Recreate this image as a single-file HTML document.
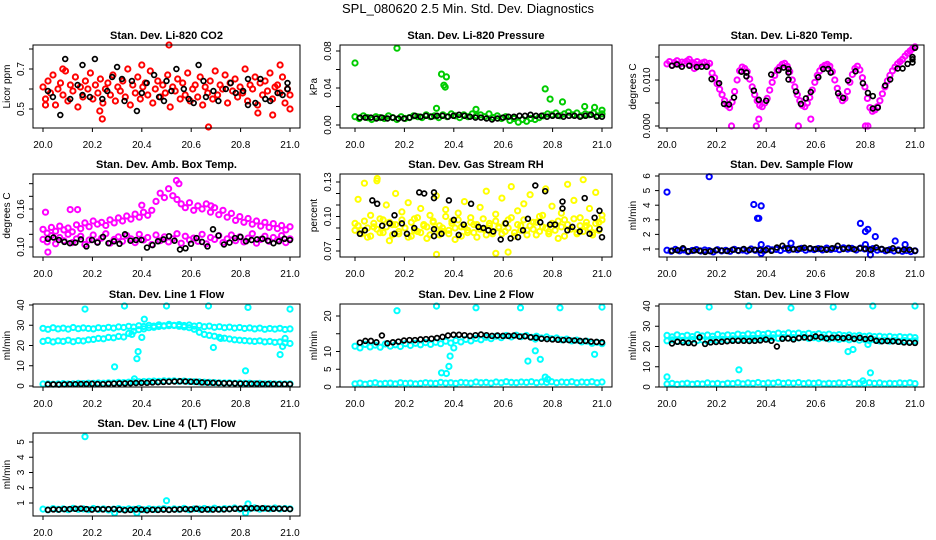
<!DOCTYPE html>
<html><head><meta charset="utf-8"><title>SPL_080620 2.5 Min. Std. Dev. Diagnostics</title>
<style>html,body{margin:0;padding:0;background:#fff;}svg{display:block;font-family:"Liberation Sans",sans-serif;}</style>
</head><body>
<svg id="chart" width="936" height="540" viewBox="0 0 936 540">
<text x="468" y="13" text-anchor="middle" font-size="13">SPL_080620  2.5 Min. Std. Dev. Diagnostics</text>
</svg>
<script>
// ---------- data ----------
const xTicks = [20.0, 20.2, 20.4, 20.6, 20.8, 21.0];
const xTickLabels = ["20.0", "20.2", "20.4", "20.6", "20.8", "21.0"];

// P1 CO2
const co2Red = [0.61,0.55,0.64,0.58,0.67,0.52,0.60,0.63,0.57,0.69,0.54,0.62,0.59,0.66,0.51,0.61,0.56,0.64,0.60,0.68,0.55,0.62,0.58,0.65,0.53,0.60,0.63,0.57,0.67,0.54,0.61,0.59,0.64,0.56,0.70,0.52,0.62,0.58,0.66,0.55,0.61,0.63,0.57,0.69,0.53,0.60,0.64,0.56,0.62,0.58,0.67,0.51,0.61,0.59,0.65,0.55,0.63,0.57,0.68,0.54,0.60,0.62,0.56,0.66,0.52,0.61,0.58,0.64,0.55,0.69,0.57,0.62,0.60,0.67,0.53,0.63,0.59,0.65,0.56,0.61,0.58,0.70,0.54,0.62,0.60,0.66,0.52,0.63,0.57,0.64,0.59,0.68,0.55,0.61,0.62,0.58,0.66,0.53,0.60,0.57];
const co2RedOut = [[20.51,0.82],[20.67,0.41],[20.24,0.45],[20.40,0.72],[20.96,0.72],[20.08,0.70],[20.23,0.49],[20.87,0.48],[20.93,0.47],[20.01,0.52],[21.0,0.50]];
const co2Black = [[20.02,0.59],[20.04,0.56],[20.07,0.47],[20.09,0.75],[20.11,0.55],[20.14,0.62],[20.16,0.72],[20.16,0.57],[20.19,0.56],[20.21,0.75],[20.24,0.55],[20.26,0.59],[20.28,0.66],[20.30,0.71],[20.32,0.65],[20.33,0.54],[20.36,0.64],[20.38,0.49],[20.40,0.58],[20.42,0.63],[20.45,0.67],[20.47,0.56],[20.49,0.54],[20.50,0.64],[20.52,0.59],[20.54,0.70],[20.57,0.60],[20.59,0.55],[20.61,0.53],[20.63,0.72],[20.65,0.64],[20.66,0.56],[20.69,0.59],[20.71,0.54],[20.74,0.60],[20.76,0.63],[20.78,0.58],[20.81,0.59],[20.83,0.65],[20.83,0.52],[20.86,0.53],[20.88,0.65],[20.90,0.55],[20.92,0.54],[20.95,0.58],[20.97,0.57],[20.99,0.60],[20.99,0.63]];

// P2 Pressure
const presGreen = [0.009,0.007,0.010,0.008,0.006,0.009,0.008,0.007,0.010,0.008,0.006,0.009,0.007,0.008,0.010,0.009,0.008,0.011,0.009,0.010,0.008,0.011,0.009,0.012,0.010,0.008,0.011,0.009,0.012,0.010,0.011,0.009,0.012,0.008,0.010,0.007,0.009,0.005,0.007,0.003,0.006,0.004,0.007,0.006,0.008,0.010,0.012,0.011,0.013,0.010,0.012,0.014,0.011,0.013,0.010,0.012,0.011,0.013,0.010,0.012];
const presGreenOut = [[20.0,0.067],[20.17,0.083],[20.33,0.018],[20.35,0.055],[20.37,0.052],[20.36,0.043],[20.365,0.041],[20.49,0.017],[20.77,0.039],[20.79,0.028],[20.84,0.025],[20.93,0.020],[20.97,0.019],[21.0,0.016]];
const presBlack = [0.008,0.008,0.008,0.007,0.008,0.007,0.008,0.007,0.007,0.008,0.010,0.009,0.010,0.009,0.010,0.010,0.009,0.010,0.011,0.010,0.009,0.008,0.008,0.007,0.006,0.007,0.008,0.009,0.009,0.010,0.010,0.011,0.010,0.010,0.009,0.010,0.010,0.009,0.010,0.010,0.009,0.010,0.011,0.009,0.009];

// P3 Li-820 Temp
const tempMag = [0.0135,0.0140,0.0132,0.0138,0.0142,0.0134,0.0139,0.0136,0.0141,0.0133,0.0138,0.0135,0.0140,0.0134,0.0137,0.0139,0.0133,0.0136,0.0115,0.0105,0.0092,0.0080,0.0068,0.0055,0.0045,0.0040,0.0052,0.0075,0.0100,0.0120,0.0128,0.0125,0.0118,0.0102,0.0085,0.0068,0.0055,0.0045,0.0042,0.0050,0.0060,0.0078,0.0095,0.0110,0.0122,0.0128,0.0134,0.0136,0.0130,0.0118,0.0100,0.0085,0.0068,0.0055,0.0045,0.0042,0.0050,0.0062,0.0078,0.0095,0.0110,0.0120,0.0128,0.0132,0.0134,0.0130,0.0118,0.0100,0.0082,0.0065,0.0055,0.0060,0.0075,0.0095,0.0112,0.0125,0.0130,0.0122,0.0105,0.0085,0.0060,0.0040,0.0032,0.0035,0.0042,0.0055,0.0070,0.0085,0.0098,0.0110,0.0120,0.0128,0.0135,0.0140,0.0145,0.0152,0.0158,0.0163,0.0168,0.0172];
const tempMagOut = [[20.26,0],[20.36,0],[20.53,0],[20.8,0],[20.81,0],[20.58,0.0015],[20.37,0.0015],[20.09,0.0145],[20.11,0.0125]];
const tempBlack = [[20.02,0.0131],[20.04,0.0134],[20.06,0.0129],[20.09,0.0131],[20.12,0.0128],[20.14,0.0129],[20.16,0.0129],[20.18,0.0102],[20.21,0.0093],[20.23,0.0048],[20.25,0.0047],[20.27,0.0062],[20.30,0.0118],[20.32,0.0116],[20.32,0.0108],[20.35,0.0077],[20.37,0.0057],[20.40,0.0055],[20.42,0.0112],[20.45,0.0121],[20.47,0.0127],[20.49,0.0124],[20.49,0.0116],[20.49,0.0101],[20.52,0.0075],[20.54,0.0048],[20.56,0.0060],[20.58,0.0074],[20.61,0.0106],[20.63,0.0124],[20.65,0.0124],[20.66,0.0116],[20.69,0.0071],[20.71,0.0061],[20.73,0.0099],[20.76,0.0119],[20.79,0.0093],[20.81,0.0072],[20.83,0.0065],[20.83,0.0038],[20.85,0.0040],[20.88,0.0088],[20.90,0.0101],[20.93,0.0125],[20.95,0.0125],[20.97,0.0135],[20.99,0.0145],[20.99,0.0150],[21.0,0.0170],[20.99,0.0138]];

// P4 Amb Box Temp
const ambLower = [0.112,0.108,0.118,0.105,0.115,0.110,0.120,0.107,0.113,0.117,0.104,0.111,0.119,0.108,0.114,0.121,0.106,0.112,0.116,0.109,0.118,0.113,0.107,0.120,0.111,0.115,0.104,0.119,0.110,0.116,0.108,0.113,0.121,0.106,0.117,0.111,0.114,0.109,0.120,0.105,0.115,0.112,0.118,0.107,0.113,0.119,0.110,0.116,0.108,0.114,0.121,0.106,0.112,0.117,0.109,0.115,0.111,0.118,0.107,0.113];
const ambUpper = [0.128,0.122,0.131,0.125,0.133,0.127,0.130,0.124,0.135,0.129,0.138,0.132,0.141,0.136,0.139,0.134,0.143,0.138,0.146,0.141,0.149,0.144,0.152,0.147,0.155,0.150,0.158,0.172,0.185,0.178,0.192,0.181,0.175,0.168,0.162,0.170,0.158,0.165,0.160,0.168,0.155,0.162,0.151,0.158,0.147,0.153,0.142,0.148,0.139,0.145,0.136,0.141,0.133,0.139,0.131,0.137,0.129,0.134,0.127,0.132];
const ambOut = [[20.01,0.155],[20.11,0.159],[20.14,0.159],[20.54,0.205],[20.55,0.200],[20.02,0.092],[20.68,0.165],[20.40,0.166]];
const ambBlack = [0.113,0.115,0.111,0.108,0.106,0.107,0.112,0.101,0.111,0.107,0.116,0.106,0.109,0.105,0.120,0.110,0.111,0.111,0.099,0.103,0.109,0.112,0.117,0.110,0.096,0.098,0.105,0.114,0.108,0.101,0.128,0.118,0.104,0.107,0.114,0.116,0.109,0.111,0.112,0.113,0.110,0.106,0.109,0.113,0.111];

// P5 Gas Stream RH
const rhYellowA = [0.094,0.115,0.088,0.129,0.082,0.101,0.091,0.131,0.086,0.097,0.110,0.079,0.093,0.120,0.085,0.104,0.090,0.112,0.083,0.098,0.087,0.107,0.092,0.081,0.101,0.095,0.118,0.084,0.090,0.106,0.088,0.096,0.080,0.103,0.091,0.113,0.086,0.099,0.093,0.082,0.108,0.089,0.122,0.094,0.085,0.102,0.090,0.116,0.087,0.097,0.126,0.083,0.105,0.092,0.111,0.088,0.119,0.095,0.084,0.100,0.091,0.124,0.087,0.109,0.093,0.081,0.103,0.097,0.128,0.089,0.114,0.085,0.099,0.132,0.092,0.107,0.086,0.121,0.095,0.101];
const rhYellowB = [0.088,0.092,0.085,0.096,0.090,0.083,0.094,0.089,0.098,0.086,0.091,0.095,0.084,0.093,0.087,0.097,0.090,0.082,0.095,0.088,0.099,0.086,0.093,0.091,0.084,0.096,0.089,0.092,0.087,0.100,0.085,0.094,0.090,0.097,0.083,0.091,0.088,0.095,0.086,0.093,0.089,0.098,0.084,0.092,0.087,0.096,0.091,0.085,0.094,0.090,0.099,0.086,0.093,0.088,0.097,0.084,0.092,0.089,0.095,0.087,0.101,0.090,0.085,0.094,0.088,0.096,0.091,0.083,0.093,0.089,0.098,0.086,0.092,0.087,0.095,0.090,0.084,0.094,0.088,0.097];
const rhOut = [[20.57,0.068],[20.62,0.069],[20.33,0.067],[20.09,0.133]];
const rhBlack = [[20.02,0.085],[20.04,0.088],[20.07,0.114],[20.09,0.111],[20.11,0.092],[20.14,0.094],[20.16,0.101],[20.16,0.085],[20.19,0.094],[20.21,0.085],[20.24,0.090],[20.26,0.121],[20.28,0.120],[20.32,0.121],[20.32,0.116],[20.32,0.089],[20.32,0.083],[20.35,0.085],[20.38,0.114],[20.40,0.097],[20.42,0.084],[20.44,0.093],[20.47,0.111],[20.50,0.091],[20.52,0.090],[20.54,0.088],[20.56,0.087],[20.59,0.080],[20.61,0.094],[20.63,0.081],[20.66,0.082],[20.68,0.088],[20.70,0.098],[20.73,0.127],[20.75,0.095],[20.77,0.122],[20.79,0.093],[20.81,0.093],[20.84,0.113],[20.84,0.107],[20.86,0.088],[20.88,0.091],[20.91,0.087],[20.93,0.116],[20.95,0.085],[20.97,0.099],[20.99,0.089],[20.99,0.105],[21.0,0.082]];

// P6 Sample Flow
const sfBlue = [0.92,0.85,0.97,0.88,0.94,0.82,0.90,0.96,0.86,0.93,0.89,0.80,0.95,0.87,0.91,0.84,0.98,0.89,0.93,0.86,1.00,0.91,0.95,0.88,1.02,0.94,0.97,0.90,1.04,0.93,0.99,0.95,1.05,0.92,1.01,0.96,1.03,0.94,1.06,0.97,1.02,0.95,1.08,0.99,1.04,0.93,1.06,1.00,0.97,1.03,0.92,0.98,0.88,0.95,0.86,0.93,0.84,0.90,0.82,0.88];
const sfOut = [[20.0,4.9],[20.17,5.95],[20.35,4.05],[20.37,3.1],[20.38,3.95],[20.365,3.1],[20.78,2.75],[20.80,2.2],[20.81,2.35],[20.84,1.85],[20.92,1.55],[20.96,1.3],[20.80,1.3],[20.82,0.6],[20.38,1.3],[20.50,1.4],[20.38,0.7]];
const sfBlack = [0.88,0.92,1.05,0.85,0.90,0.88,0.80,0.85,0.92,0.89,0.86,0.95,0.90,1.00,0.93,0.95,0.92,0.93,0.88,1.10,1.22,1.05,0.98,1.02,1.08,1.05,1.00,1.02,0.95,1.05,1.22,1.00,1.08,0.98,1.05,1.02,0.95,1.10,1.00,0.92,1.05,0.90,0.96,0.95,0.88];

// P7 Line 1 Flow
const l1Upper = [28.5,28.0,28.8,28.2,28.6,28.1,28.9,28.3,28.7,28.4,28.2,28.8,28.5,29.0,28.6,29.2,28.9,29.5,29.1,29.8,29.4,30.0,29.6,30.2,29.8,30.4,30.0,30.3,29.9,30.1,29.6,29.9,29.3,29.6,29.0,29.3,28.8,29.1,28.6,28.9,28.4,28.7,28.2,28.6,28.0,28.4,28.1,28.5,27.9,28.2];
const l1Lower = [22.0,22.5,21.8,22.3,22.0,22.6,21.9,22.4,22.2,22.8,23.0,23.5,23.3,24.0,23.8,24.5,24.2,26.0,27.0,27.8,28.2,28.8,29.0,29.4,29.6,29.8,29.9,29.5,29.2,28.8,28.0,26.5,25.5,25.0,24.6,24.0,23.6,23.2,22.8,22.6,22.4,22.2,22.0,22.3,21.8,22.0,21.6,21.8,21.3,21.0];
const l1Bottom = [1.0,1.1,0.9,1.0,1.2,1.0,1.1,1.3,1.2,1.4,1.3,1.5,1.4,1.6,1.5,1.8,1.7,1.9,2.0,2.1,2.2,2.3,2.4,2.3,2.5,2.4,2.5,2.3,2.4,2.2,2.1,2.0,1.9,1.8,1.7,1.6,1.5,1.6,1.4,1.5,1.3,1.4,1.2,1.3,1.1,1.2,1.0,1.1,1.0,1.1];
const l1Out = [[20.17,38],[20.33,39.5],[20.5,39.5],[20.67,39.5],[20.83,38.8],[21.0,38],[20.29,9.5],[20.38,13.5],[20.385,17],[20.41,33],[20.69,19],[20.82,7.5],[20.96,15.5],[20.97,19.5],[20.98,23.5],[20.37,3.5],[20.36,25.5],[20.40,24],[20.72,23.5]];
const l1Black = [0.8,0.8,0.7,0.8,0.9,0.9,1.0,1.0,1.1,1.0,0.9,1.1,1.2,1.3,1.3,1.4,1.5,1.6,1.6,1.8,1.9,2.0,2.1,2.2,2.3,2.2,2.1,2.0,1.8,1.7,1.6,1.5,1.4,1.4,1.3,1.2,1.2,1.1,1.1,1.0,1.0,1.0,0.9,0.9,0.9];

// P8 Line 2 Flow
const l2Upper = [11.5,11.0,12.0,11.3,11.8,11.2,12.1,11.5,11.9,11.4,12.2,11.7,12.3,11.9,12.5,12.0,12.6,12.2,12.9,12.4,13.1,12.7,13.4,13.0,13.7,13.3,14.0,13.6,14.3,13.9,14.5,14.1,14.6,14.2,14.5,14.0,14.3,13.8,14.1,13.6,13.8,13.3,13.5,13.0,13.2,12.7,12.9,12.4,12.6,12.2];
const l2Bottom = [0.9,1.1,0.8,1.0,1.2,0.9,1.0,1.1,0.9,1.2,1.0,1.1,0.9,1.0,1.2,1.1,1.0,1.3,1.1,1.2,1.0,1.3,1.2,1.1,1.4,1.2,1.3,1.1,1.4,1.2,1.5,1.3,1.2,1.4,1.3,1.5,1.2,1.4,1.3,1.5,1.2,1.4,1.3,1.5,1.2,1.4,1.3,1.5,1.2,1.4];
const l2Out = [[20.17,21.5],[20.33,22.8],[20.49,22.3],[20.67,22.3],[20.83,22.3],[21.0,22.5],[20.35,4],[20.37,3.8],[20.38,5.8],[20.385,8.7],[20.70,7.3],[20.75,7.8],[20.73,10.2],[20.77,2.8],[20.78,2.2],[20.97,9.2],[20.96,12.3],[20.73,13.5],[20.40,11]];
const l2Black = [12.5,13.0,13.0,12.6,14.5,12.3,12.6,12.8,13.1,13.2,13.2,13.4,13.5,13.6,13.8,14.1,14.5,14.7,14.7,14.6,14.4,14.6,14.8,14.6,14.4,14.5,14.4,14.4,14.5,14.2,14.3,14.0,13.9,13.6,13.5,13.4,13.3,13.2,13.2,13.1,13.0,13.0,12.8,12.7,12.6];

// P9 Line 3 Flow
const l3Upper = [25.5,24.8,25.8,25.0,25.6,24.9,25.9,25.2,25.7,25.1,26.0,25.3,25.8,25.4,26.1,25.6,26.2,25.7,26.4,25.9,26.5,26.0,26.6,26.1,26.7,26.2,26.6,26.0,26.5,25.9,26.3,25.8,26.1,25.6,25.9,25.4,25.7,25.2,25.5,25.0,25.3,24.9,25.1,24.7,25.0,24.6,24.9,24.5,24.8,24.4];
const l3Lower = [22.8,23.3,22.5,23.0,22.7,23.4,22.9,23.2,22.6,23.5,23.0,23.6,23.1,23.7,23.3,23.9,23.4,24.0,23.6,24.2,23.8,24.3,24.0,24.5,24.1,24.4,24.2,24.6,24.0,24.4,23.9,24.3,23.7,24.1,23.5,23.9,23.3,23.7,23.1,23.5,22.9,23.3,22.7,23.1,22.6,23.0,22.5,22.9,22.4,22.8];
const l3Bottom = [1.5,1.8,1.3,1.6,1.9,1.4,1.7,1.5,2.0,1.6,1.8,1.4,1.9,1.7,2.1,1.6,2.0,1.8,2.2,1.7,2.0,1.9,2.3,1.8,2.1,1.9,2.2,1.7,2.0,1.8,2.1,1.6,1.9,1.7,2.0,1.8,2.2,1.6,1.9,1.7,2.1,1.8,2.0,1.6,1.9,1.7,2.0,1.8,2.1,1.7];
const l3Out = [[20.0,5],[20.17,39.5],[20.33,40],[20.5,39],[20.67,39.5],[20.83,40],[21.0,40],[20.29,8.5],[20.73,17.5],[20.75,18.5],[20.82,7],[20.81,21],[20.79,3]];
const l3Black = [21.5,22.3,22.0,21.8,21.6,24.5,21.3,22.0,22.2,22.3,22.6,22.8,22.8,22.8,22.7,22.8,23.0,23.4,22.8,20.0,23.8,24.0,23.5,24.2,24.5,24.2,25.0,24.6,24.0,24.3,24.4,24.1,24.5,23.8,24.3,23.7,24.0,22.8,22.6,22.7,22.6,22.3,22.0,21.9,21.8];

// P10 Line 4 (LT) Flow
const l4Cyan = [0.60,0.55,0.63,0.58,0.62,0.56,0.65,0.59,0.61,0.57,0.64,0.58,0.62,0.55,0.60,0.63,0.57,0.61,0.59,0.64,0.56,0.62,0.58,0.60,0.63,0.57,0.61,0.59,0.65,0.56,0.62,0.60,0.64,0.58,0.66,0.59,0.63,0.61,0.67,0.60,0.64,0.62,0.68,0.60,0.65,0.62,0.67,0.61,0.64,0.62];
const l4Out = [[20.17,5.35],[20.5,1.15],[20.83,0.95],[20.29,0.35],[20.38,0.35],[20.82,0.35]];
const l4Black = [0.55,0.58,0.57,0.60,0.60,0.62,0.63,0.60,0.57,0.60,0.58,0.60,0.60,0.57,0.53,0.55,0.58,0.57,0.53,0.56,0.55,0.57,0.55,0.57,0.58,0.60,0.58,0.62,0.56,0.58,0.57,0.58,0.58,0.60,0.62,0.63,0.65,0.65,0.66,0.65,0.63,0.62,0.63,0.62,0.60];

// ---------- layout ----------
const NS = "http://www.w3.org/2000/svg";
const svg = document.getElementById("chart");
const cols = [{l:33,r:300,x0:43,x1:290},{l:340,r:612,x0:355,x1:602},{l:659,r:924,x0:667,x1:915}];
const rows = [{t:45,b:128},{t:174,b:257},{t:304,b:387},{t:433,b:516}];

function el(tag, attrs, parent){ const e=document.createElementNS(NS,tag); for(const k in attrs) e.setAttribute(k,attrs[k]); (parent||svg).appendChild(e); return e; }
function even(arr, x0, x1){ return arr.map((v,i)=>[x0+(x1-x0)*i/(arr.length-1), v]); }

function panel(cfg){
  const c=cols[cfg.col], r=rows[cfg.row];
  const g=el("g",{});
  
  
  const xs=v=>c.x0+(v-20)*(c.x1-c.x0);
  const ys=v=>cfg.p0+(v-cfg.v0)*(cfg.p1-cfg.p0)/(cfg.v1-cfg.v0);
  cfg.series.forEach(s=>{
    const isBlack = s.color==="#000";
    const sg=el("g",{fill:"none",stroke:s.color,"stroke-width":isBlack?1.7:2},g);
    
    
    s.pts.forEach(p=>{
      const px=xs(p[0]), py=ys(p[1]);
      if(py<r.t-2||py>r.b+2) return;
      const ci=el("circle",{cx:px.toFixed(1),cy:py.toFixed(1),r:isBlack?2.4:2.6},sg);
      
      
    });
  });
  const box=el("rect",{x:c.l,y:r.t,width:c.r-c.l,height:r.b-r.t,fill:"none",stroke:"#000","stroke-width":1},g);
  
  
  const t=el("text",{x:(c.l+c.r)/2,y:r.t-6,"text-anchor":"middle","font-size":11,"font-weight":"bold"},g);
  t.textContent=cfg.title;
  
  
  xTicks.forEach((v,i)=>{
    const px=xs(v);
    el("line",{x1:px,x2:px,y1:r.b,y2:r.b+4,stroke:"#000"},g);
    const tl=el("text",{x:px,y:r.b+20,"text-anchor":"middle","font-size":10},g);
    tl.textContent=xTickLabels[i];
    
    
  });
  cfg.yTicks.forEach((v,i)=>{
    const py=ys(v);
    el("line",{x1:c.l-4,x2:c.l,y1:py,y2:py,stroke:"#000"},g);
    if(cfg.yLabels[i]){
      const tl=el("text",{x:0,y:0,"text-anchor":"middle","font-size":10,transform:`translate(${c.l-9},${py}) rotate(-90)`},g);
      tl.textContent=cfg.yLabels[i];
      
      
    }
  });
  const yt=el("text",{x:0,y:0,"text-anchor":"middle","font-size":10,transform:`translate(${c.l-23},${(r.t+r.b)/2}) rotate(-90)`},g);
  yt.textContent=cfg.yTitle;
  
  
}

const E=(a)=>even(a,20.0,21.0), EB=(a)=>even(a,20.02,21.0);
panel({name:"panel-co2",col:0,row:0,title:"Stan. Dev. Li-820 CO2",yTitle:"Licor ppm",v0:0.7,p0:69,v1:0.5,p1:109,yTicks:[0.5,0.6,0.7,0.8],yLabels:["0.5","","0.7",""],
  series:[{name:"co2-red",color:"#ff0000",pts:E(co2Red).concat(co2RedOut)},{name:"co2-black",color:"#000",pts:co2Black}]});
panel({name:"panel-pressure",col:1,row:0,title:"Stan. Dev. Li-820 Pressure",yTitle:"kPa",v0:0.08,p0:51,v1:0,p1:125,yTicks:[0,0.02,0.04,0.06,0.08],yLabels:["0.00","","0.04","","0.08"],
  series:[{name:"pressure-green",color:"#00cc00",pts:E(presGreen).concat(presGreenOut)},{name:"pressure-black",color:"#000",pts:EB(presBlack)}]});
panel({name:"panel-li820-temp",col:2,row:0,title:"Stan. Dev. Li-820 Temp.",yTitle:"degrees C",v0:0.010,p0:80,v1:0,p1:126,yTicks:[0,0.005,0.010,0.015],yLabels:["0.000","","0.010",""],
  series:[{name:"temp-magenta",color:"#ff00ff",pts:E(tempMag).concat(tempMagOut)},{name:"temp-black",color:"#000",pts:tempBlack}]});
panel({name:"panel-amb-box-temp",col:0,row:1,title:"Stan. Dev. Amb. Box Temp.",yTitle:"degrees C",v0:0.16,p0:209,v1:0.10,p1:247,yTicks:[0.10,0.12,0.14,0.16,0.18,0.20],yLabels:["0.10","","","0.16","",""],
  series:[{name:"amb-magenta",color:"#ff00ff",pts:E(ambLower).concat(E(ambUpper),ambOut)},{name:"amb-black",color:"#000",pts:EB(ambBlack)}]});
panel({name:"panel-gas-rh",col:1,row:1,title:"Stan. Dev. Gas Stream RH",yTitle:"percent",v0:0.13,p0:182,v1:0.07,p1:251,yTicks:[0.07,0.08,0.09,0.10,0.11,0.12,0.13],yLabels:["0.07","","","0.10","","","0.13"],
  series:[{name:"rh-yellow",color:"#ffff00",pts:E(rhYellowA).concat(E(rhYellowB),rhOut)},{name:"rh-black",color:"#000",pts:rhBlack}]});
panel({name:"panel-sample-flow",col:2,row:1,title:"Stan. Dev. Sample Flow",yTitle:"ml/min",v0:6,p0:176,v1:1,p1:249,yTicks:[1,2,3,4,5,6],yLabels:["1","2","3","4","5","6"],
  series:[{name:"sample-blue",color:"#0000ff",pts:E(sfBlue).concat(sfOut)},{name:"sample-black",color:"#000",pts:EB(sfBlack)}]});
panel({name:"panel-line1",col:0,row:2,title:"Stan. Dev. Line 1 Flow",yTitle:"ml/min",v0:40,p0:305,v1:0,p1:386,yTicks:[0,10,20,30,40],yLabels:["0","10","20","30","40"],
  series:[{name:"line1-cyan",color:"#00ffff",pts:E(l1Upper).concat(E(l1Lower),E(l1Bottom),l1Out)},{name:"line1-black",color:"#000",pts:EB(l1Black)}]});
panel({name:"panel-line2",col:1,row:2,title:"Stan. Dev. Line 2 Flow",yTitle:"ml/min",v0:20,p0:316,v1:0,p1:387,yTicks:[0,5,10,15,20],yLabels:["0","5","10","","20"],
  series:[{name:"line2-cyan",color:"#00ffff",pts:E(l2Upper).concat(E(l2Bottom),l2Out)},{name:"line2-black",color:"#000",pts:EB(l2Black)}]});
panel({name:"panel-line3",col:2,row:2,title:"Stan. Dev. Line 3 Flow",yTitle:"ml/min",v0:40,p0:306,v1:0,p1:387,yTicks:[0,10,20,30,40],yLabels:["0","10","20","30","40"],
  series:[{name:"line3-cyan",color:"#00ffff",pts:E(l3Upper).concat(E(l3Lower),E(l3Bottom),l3Out)},{name:"line3-black",color:"#000",pts:EB(l3Black)}]});
panel({name:"panel-line4",col:0,row:3,title:"Stan. Dev. Line 4 (LT) Flow",yTitle:"ml/min",v0:5,p0:442,v1:1,p1:503,yTicks:[1,2,3,4,5],yLabels:["1","2","3","4","5"],
  series:[{name:"line4-cyan",color:"#00ffff",pts:E(l4Cyan).concat(l4Out)},{name:"line4-black",color:"#000",pts:EB(l4Black)}]});
</script>
</body></html>
